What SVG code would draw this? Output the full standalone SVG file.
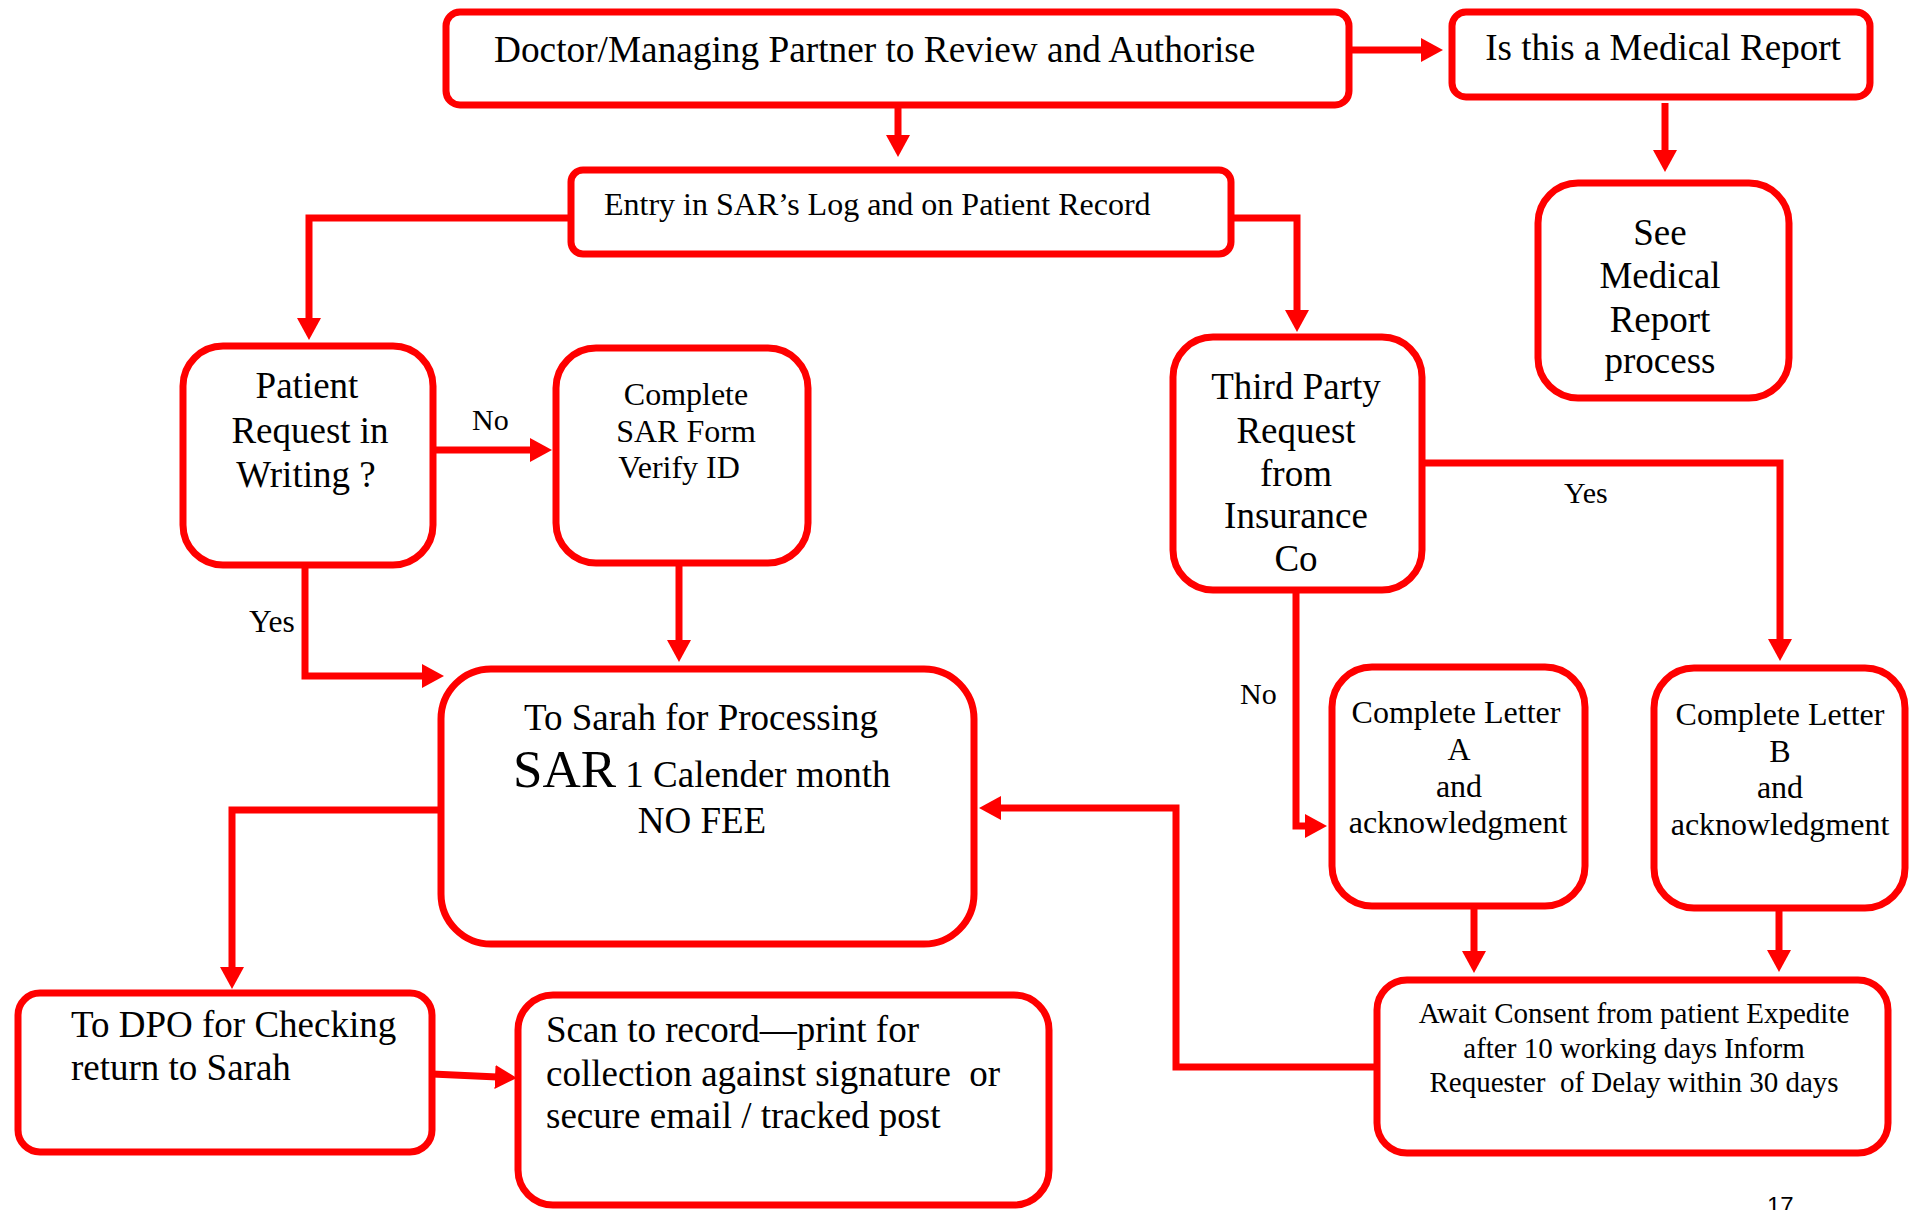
<svg xmlns="http://www.w3.org/2000/svg" width="1918" height="1210" viewBox="0 0 1918 1210">
<style>
.box{fill:#fff;stroke:#ff0000;stroke-width:7}
.t{font-family:"Liberation Serif","Times New Roman",serif;fill:#000}
.c{text-anchor:middle}
.con{fill:none;stroke:#ff0000;stroke-width:7;stroke-linejoin:miter;marker-end:url(#ah)}
.pre{white-space:pre}
</style>
<defs>
<marker id="ah" viewBox="0 0 22 24" refX="8" refY="12" markerWidth="22" markerHeight="24" markerUnits="userSpaceOnUse" orient="auto">
<path d="M0,0 L22,12 L0,24 z" fill="#ff0000"/>
</marker>
</defs>
<rect width="1918" height="1210" fill="#fff"/>

<g id="connectors">
<path class="con" d="M898,105 V143"/>
<path class="con" d="M1349,50 H1429"/>
<path class="con" d="M1665,103 V158"/>
<path class="con" d="M571,218 H309 V326"/>
<path class="con" d="M1231,218 H1297 V318"/>
<path class="con" d="M433,450 H538"/>
<path class="con" d="M305,565 V676 H430"/>
<path class="con" d="M679,563 V648"/>
<path class="con" d="M441,810 H232 V975"/>
<path class="con" d="M432,1074 L503,1077.3"/>
<path class="con" d="M1422,463 H1780 V647"/>
<path class="con" d="M1296,590 V826 H1313"/>
<path class="con" d="M1474,906 V959"/>
<path class="con" d="M1779,908 V958"/>
<path class="con" d="M1377,1067 H1176 V808 H993"/>
<text class="t" x="472" y="430" font-size="30">No</text>
<text class="t" x="249" y="632" font-size="31.5">Yes</text>
<text class="t" x="1564" y="503" font-size="30">Yes</text>
<text class="t" x="1240" y="704" font-size="30">No</text>
</g>

<g id="node-review">
<rect class="box" x="446" y="12" width="903" height="93" rx="14"/>
<text class="t" x="494" y="62" font-size="37.3">Doctor/Managing Partner to Review and Authorise</text>
</g>

<g id="node-medical-report">
<rect class="box" x="1452" y="12" width="418" height="85" rx="14"/>
<text class="t c" x="1663" y="60" font-size="37">Is this a Medical Report</text>
</g>

<g id="node-see-medical">
<rect class="box" x="1538" y="183" width="251" height="215" rx="40"/>
<text class="t c" font-size="37"><tspan x="1660" y="245">See</tspan><tspan x="1660" y="288">Medical</tspan><tspan x="1660" y="332">Report</tspan><tspan x="1660" y="373">process</tspan></text>
</g>

<g id="node-entry">
<rect class="box" x="571" y="170" width="660" height="84" rx="12"/>
<text class="t" x="604" y="215" font-size="32">Entry in SAR’s Log and on Patient Record</text>
</g>

<g id="node-patient">
<rect class="box" x="183" y="346" width="250" height="219" rx="40"/>
<text class="t c" font-size="37"><tspan x="307" y="398">Patient</tspan><tspan x="310" y="443">Request in</tspan><tspan x="306" y="487">Writing ?</tspan></text>
</g>

<g id="node-complete-sar">
<rect class="box" x="556" y="348" width="252" height="215" rx="40"/>
<text class="t c" font-size="32"><tspan x="686" y="405">Complete</tspan><tspan x="686" y="442">SAR Form</tspan><tspan x="679" y="478">Verify ID</tspan></text>
</g>

<g id="node-third-party">
<rect class="box" x="1173" y="337" width="249" height="253" rx="40"/>
<text class="t c" font-size="37"><tspan x="1296" y="399">Third Party</tspan><tspan x="1296" y="443">Request</tspan><tspan x="1296" y="486">from</tspan><tspan x="1296" y="528">Insurance</tspan><tspan x="1296" y="571">Co</tspan></text>
</g>

<g id="node-sarah">
<rect class="box" x="441" y="669" width="533" height="275" rx="50"/>
<text class="t c" x="701" y="730" font-size="37">To Sarah for Processing</text>
<text class="t" x="513" y="787" font-size="37"><tspan font-size="53">SAR</tspan> 1 Calender month</text>
<text class="t c" x="702" y="833" font-size="37">NO FEE</text>
</g>

<g id="node-letter-a">
<rect class="box" x="1332" y="667" width="253" height="239" rx="40"/>
<text class="t c" font-size="32"><tspan x="1456" y="723">Complete Letter</tspan><tspan x="1459" y="760">A</tspan><tspan x="1459" y="797">and</tspan><tspan x="1458" y="833">acknowledgment</tspan></text>
</g>

<g id="node-letter-b">
<rect class="box" x="1654" y="668" width="251" height="240" rx="40"/>
<text class="t c" font-size="32"><tspan x="1780" y="725">Complete Letter</tspan><tspan x="1780" y="762">B</tspan><tspan x="1780" y="798">and</tspan><tspan x="1780" y="835">acknowledgment</tspan></text>
</g>

<g id="node-await">
<rect class="box" x="1377" y="980" width="511" height="173" rx="30"/>
<text class="t c pre" font-size="29"><tspan x="1634" y="1023">Await Consent from patient Expedite</tspan><tspan x="1634" y="1058">after 10 working days Inform</tspan><tspan x="1634" y="1092">Requester  of Delay within 30 days</tspan></text>
</g>

<g id="node-dpo">
<rect class="box" x="18" y="993" width="414" height="159" rx="22"/>
<text class="t" font-size="37"><tspan x="71" y="1037">To DPO for Checking</tspan><tspan x="71" y="1080">return to Sarah</tspan></text>
</g>

<g id="node-scan">
<rect class="box" x="518" y="995" width="531" height="210" rx="35"/>
<text class="t pre" font-size="37"><tspan x="546" y="1042">Scan to record—print for</tspan><tspan x="546" y="1086">collection against signature  or</tspan><tspan x="546" y="1128">secure email / tracked post</tspan></text>
</g>

<text class="t" x="1767" y="1214" font-size="24" style="font-family:'Liberation Sans',Arial,sans-serif">17</text>
</svg>
